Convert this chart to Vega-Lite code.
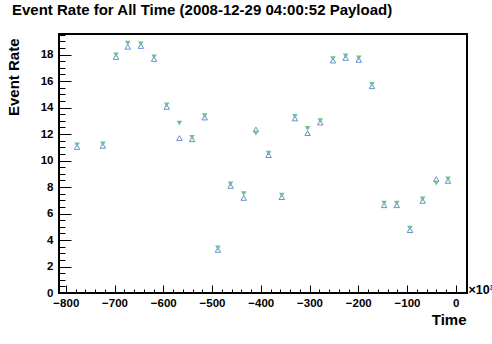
{
  "$schema": "https://vega.github.io/schema/vega-lite/v6.json",
  "width": 408,
  "height": 259,
  "autosize": "none",
  "padding": {"left": 59, "top": 34, "right": 25, "bottom": 51},
  "background": "white",
  "title": {
    "text": "Event Rate for All Time (2008-12-29 04:00:52 Payload)",
    "anchor": "start",
    "frame": "group",
    "font": "Liberation Sans",
    "fontSize": 15,
    "fontWeight": "bold",
    "color": "black",
    "baseline": "alphabetic",
    "offset": 4,
    "dx": -47
  },
  "config": {
    "view": {"stroke": "black", "strokeWidth": 2},
    "axis": {
      "grid": false,
      "labelFont": "Liberation Sans",
      "labelFontWeight": "bold",
      "labelFontSize": 11.5,
      "labelColor": "black",
      "labelFlush": false,
      "labelOverlap": false,
      "tickColor": "black",
      "tickWidth": 1,
      "domainColor": "black",
      "domainWidth": 1,
      "titleFont": "Liberation Sans",
      "titleFontWeight": "bold",
      "titleColor": "black"
    }
  },
  "data": {
    "values": [
      {"t": -777, "blue": 11.10, "green": 11.10},
      {"t": -724, "blue": 11.18, "green": 11.18},
      {"t": -697, "blue": 17.89, "green": 17.89},
      {"t": -673, "blue": 18.66, "green": 18.78},
      {"t": -646, "blue": 18.72, "green": 18.72},
      {"t": -619, "blue": 17.74, "green": 17.74},
      {"t": -593, "blue": 14.12, "green": 14.12},
      {"t": -567, "blue": 11.77, "green": 12.75},
      {"t": -541, "blue": 11.68, "green": 11.68},
      {"t": -515, "blue": 13.32, "green": 13.32},
      {"t": -488, "blue": 3.33, "green": 3.33},
      {"t": -462, "blue": 8.16, "green": 8.16},
      {"t": -435, "blue": 7.25, "green": 7.43},
      {"t": -410, "blue": 12.42, "green": 12.00},
      {"t": -384, "blue": 10.48, "green": 10.48},
      {"t": -357, "blue": 7.31, "green": 7.31},
      {"t": -330, "blue": 13.25, "green": 13.25},
      {"t": -304, "blue": 12.14, "green": 12.36},
      {"t": -278, "blue": 12.94, "green": 12.94},
      {"t": -252, "blue": 17.62, "green": 17.62},
      {"t": -226, "blue": 17.82, "green": 17.82},
      {"t": -199, "blue": 17.67, "green": 17.67},
      {"t": -172, "blue": 15.68, "green": 15.68},
      {"t": -147, "blue": 6.70, "green": 6.70},
      {"t": -121, "blue": 6.70, "green": 6.70},
      {"t": -94, "blue": 4.82, "green": 4.82},
      {"t": -68, "blue": 7.03, "green": 7.03},
      {"t": -40, "blue": 8.68, "green": 8.21},
      {"t": -16, "blue": 8.54, "green": 8.54}
    ]
  },
  "layer": [
    {
      "mark": {"type": "point", "shape": "triangle-up", "filled": false, "color": "#6a8cd6", "strokeWidth": 1, "size": 30, "opacity": 1, "yOffset": 1},
      "encoding": {
        "x": {
          "field": "t", "type": "quantitative",
          "scale": {"domain": [-814, 23], "nice": false, "zero": false},
          "axis": {
            "orient": "bottom",
            "values": [-800, -700, -600, -500, -400, -300, -200, -100, 0],
            "tickSize": -8,
            "labelPadding": 12,
            "title": "Time",
            "titleFontSize": 15,
            "titleAnchor": "end",
            "titleAlign": "right",
            "titleBaseline": "alphabetic",
            "titleX": 407,
            "titleY": 31
          }
        },
        "y": {
          "field": "blue", "type": "quantitative",
          "scale": {"domain": [0, 19.55], "nice": false, "zero": false},
          "axis": {
            "orient": "left",
            "values": [0, 2, 4, 6, 8, 10, 12, 14, 16, 18],
            "tickSize": -12,
            "labelPadding": 18,
            "title": "Event Rate",
            "titleFontSize": 15,
            "titleAngle": 270,
            "titleAnchor": "end",
            "titleAlign": "right",
            "titleBaseline": "alphabetic",
            "titleX": -41,
            "titleY": 4
          }
        }
      }
    },
    {
      "mark": {"type": "point", "shape": "triangle-down", "filled": true, "color": "#6dbf97", "strokeWidth": 0, "size": 30, "opacity": 1, "yOffset": -1},
      "encoding": {
        "x": {
          "field": "t", "type": "quantitative",
          "scale": {"domain": [-814, 23], "nice": false, "zero": false},
          "axis": {
            "orient": "bottom",
            "values": [-800, -780, -760, -740, -720, -700, -680, -660, -640, -620, -600, -580, -560, -540, -520, -500, -480, -460, -440, -420, -400, -380, -360, -340, -320, -300, -280, -260, -240, -220, -200, -180, -160, -140, -120, -100, -80, -60, -40, -20, 0, 20],
            "tickSize": -4,
            "labels": false,
            "domain": false,
            "title": "×10³",
            "titleFontSize": 12.5,
            "titleAlign": "left",
            "titleBaseline": "alphabetic",
            "titleX": 409,
            "titleY": 0
          }
        },
        "y": {
          "field": "green", "type": "quantitative",
          "scale": {"domain": [0, 19.55], "nice": false, "zero": false},
          "axis": {
            "orient": "left",
            "values": [0, 0.5, 1, 1.5, 2, 2.5, 3, 3.5, 4, 4.5, 5, 5.5, 6, 6.5, 7, 7.5, 8, 8.5, 9, 9.5, 10, 10.5, 11, 11.5, 12, 12.5, 13, 13.5, 14, 14.5, 15, 15.5, 16, 16.5, 17, 17.5, 18, 18.5, 19, 19.5],
            "tickSize": -6,
            "labels": false,
            "domain": false,
            "title": null
          }
        }
      }
    }
  ],
  "resolve": {"axis": {"x": "independent", "y": "independent"}}
}
